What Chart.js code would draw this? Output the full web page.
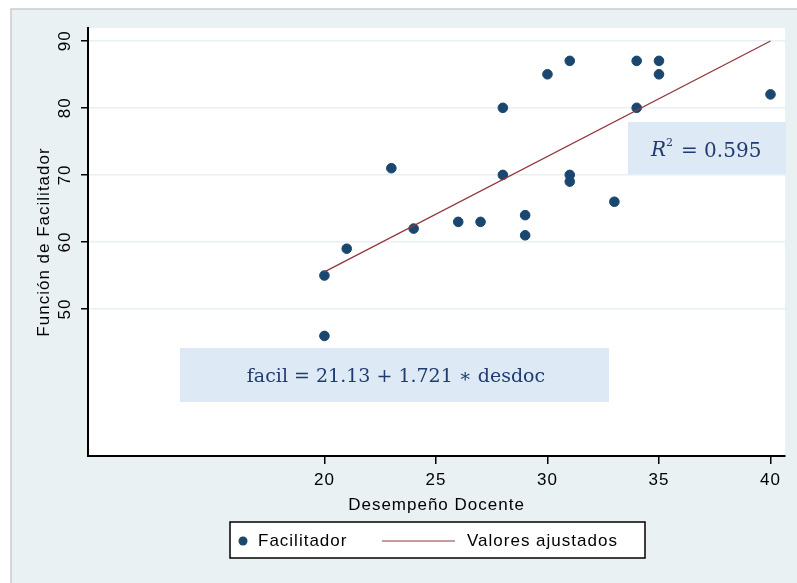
<!DOCTYPE html>
<html>
<head>
<meta charset="utf-8">
<script src="https://cdn.jsdelivr.net/npm/chart.js@4.4.0/dist/chart.umd.min.js"></script>
<style>
  html, body { margin: 0; padding: 0; background: #ffffff; }
  #wrap { position: relative; width: 797px; height: 583px; }
</style>
</head>
<body>
<div id="wrap"><canvas id="chart" width="797" height="583"></canvas></div>
<script>
// Desempeño Docente (x) vs Función de Facilitador (y)
const desdoc = [20, 20, 21, 23, 24, 26, 27, 28, 28, 29, 29, 30, 31, 31, 31, 33, 34, 34, 35, 35, 40];
const facil  = [55, 46, 59, 71, 62, 63, 63, 80, 70, 64, 61, 85, 87, 70, 69, 66, 87, 80, 87, 85, 82];

// fitted line end points (facil = 21.13 + 1.721 * desdoc)
const fitX = [20, 40];
const fitY = [55.55, 89.97];

const xTicks = [20, 25, 30, 35, 40];
const yTicks = [50, 60, 70, 80, 90];

const eqText = 'facil = 21.13 + 1.721 \u2217 desdoc';
const r2Text = '= 0.595';

const navy = '#1a476f';
const maroon = '#90353b';
const sansFont = '"Liberation Sans", Arial, sans-serif';
const serifFont = '"DejaVu Serif", "Liberation Serif", serif';

// Background, plot region, annotation boxes, y labels and legend
const stataBg = {
    id: 'stataBg',
    beforeDraw(chart) {
        const ctx = chart.ctx;
        const a = chart.chartArea;
        ctx.letterSpacing = '1px';
        ctx.save();
        ctx.fillStyle = '#ffffff';
        ctx.fillRect(0, 0, chart.width, chart.height);
        ctx.fillStyle = '#eaf1f3';
        ctx.fillRect(11, 9, chart.width - 11, chart.height - 9);
        ctx.strokeStyle = '#c9cccd';
        ctx.lineWidth = 1.5;
        ctx.beginPath();
        ctx.moveTo(11, chart.height);
        ctx.lineTo(11, 9);
        ctx.lineTo(chart.width, 9);
        ctx.stroke();
        ctx.fillStyle = '#ffffff';
        ctx.fillRect(a.left, a.top, a.right - a.left, a.bottom - a.top);
        ctx.restore();
    },
    beforeDatasetsDraw(chart) {
        const ctx = chart.ctx;
        ctx.save();
        ctx.letterSpacing = '0px';
        ctx.fillStyle = '#dde9f5';
        // R2 box
        ctx.fillRect(628, 122, 158, 52);
        // equation box
        ctx.fillRect(180, 348, 429, 54);
        ctx.fillStyle = '#1f3b70';
        ctx.textBaseline = 'middle';
        ctx.textAlign = 'left';
        ctx.font = 'italic 20px ' + serifFont;
        ctx.fillText('R', 651, 151);
        ctx.font = '11px ' + serifFont;
        ctx.fillText('2', 666, 143);
        ctx.font = '20px ' + serifFont;
        ctx.fillText(r2Text, 681, 152);
        ctx.font = '19px ' + serifFont;
        ctx.textAlign = 'center';
        ctx.fillText(eqText, 396, 377);
        ctx.restore();

        // y tick labels, rotated, and y title
        const ys = chart.scales.y;
        ctx.save();
        ctx.fillStyle = '#000';
        ctx.font = '17px ' + sansFont;
        ctx.textAlign = 'center';
        ctx.textBaseline = 'middle';
        yTicks.forEach(v => {
            const py = ys.getPixelForValue(v);
            ctx.save();
            ctx.translate(65, py);
            ctx.rotate(-Math.PI / 2);
            ctx.fillText(String(v), 0, 0);
            ctx.restore();
        });
        ctx.translate(44, (chart.chartArea.top + chart.chartArea.bottom) / 2);
        ctx.rotate(-Math.PI / 2);
        ctx.fillText('Función de Facilitador', 0, 0);
        ctx.restore();
    },
    afterDraw(chart) {
        // legend box
        const ctx = chart.ctx;
        ctx.save();
        ctx.fillStyle = '#ffffff';
        ctx.fillRect(230, 522, 415, 36);
        ctx.strokeStyle = '#000000';
        ctx.lineWidth = 1.5;
        ctx.strokeRect(230, 522, 415, 36);
        ctx.fillStyle = navy;
        ctx.beginPath();
        ctx.arc(243, 541, 4.5, 0, Math.PI * 2);
        ctx.fill();
        ctx.strokeStyle = maroon;
        ctx.lineWidth = 1;
        ctx.beginPath();
        ctx.moveTo(382, 541);
        ctx.lineTo(455, 541);
        ctx.stroke();
        ctx.fillStyle = '#000000';
        ctx.font = '17px ' + sansFont;
        ctx.textBaseline = 'middle';
        ctx.textAlign = 'left';
        ctx.fillText('Facilitador', 258, 541);
        ctx.fillText('Valores ajustados', 467, 541);
        ctx.restore();
    }
};

const ctx = document.getElementById('chart').getContext('2d');
new Chart(ctx, {
    type: 'scatter',
    data: {
        datasets: [
            {
                label: 'Facilitador',
                data: desdoc.map((x, i) => ({ x: x, y: facil[i] })),
                backgroundColor: navy,
                borderColor: navy,
                pointRadius: 4.8,
                pointHoverRadius: 4.8,
                order: 2
            },
            {
                label: 'Valores ajustados',
                type: 'line',
                data: fitX.map((x, i) => ({ x: x, y: fitY[i] })),
                borderColor: maroon,
                borderWidth: 1.2,
                pointRadius: 0,
                fill: false,
                order: 1
            }
        ]
    },
    options: {
        responsive: false,
        animation: false,
        layout: { padding: { left: 0, top: 28, right: 12, bottom: 67 } },
        plugins: {
            legend: { display: false },
            tooltip: { enabled: false }
        },
        scales: {
            x: {
                type: 'linear',
                min: 9.4,
                max: 40.65,
                afterBuildTicks: s => { s.ticks = xTicks.map(v => ({ value: v })); },
                afterFit: s => { s.height = 60; },
                grid: { drawOnChartArea: false, drawTicks: true, tickLength: 8, tickColor: '#000', lineWidth: 1.5 },
                border: { color: '#000', width: 2 },
                ticks: {
                    color: '#000',
                    padding: 6,
                    font: { family: sansFont, size: 17 },
                    maxRotation: 0, minRotation: 0
                },
                title: {
                    display: true,
                    text: 'Desempeño Docente',
                    color: '#000',
                    padding: { top: -11, bottom: 0 },
                    font: { family: sansFont, size: 17 }
                }
            },
            y: {
                type: 'linear',
                min: 28.1,
                max: 91.9,
                afterBuildTicks: s => { s.ticks = yTicks.map(v => ({ value: v })); },
                afterFit: s => { s.width = 88; },
                grid: { color: '#e8f0f3', lineWidth: 1.5, drawTicks: true, tickLength: 7, tickColor: '#000' },
                border: { color: '#000', width: 2 },
                ticks: { display: false }
            }
        }
    },
    plugins: [stataBg]
});
</script>
</body>
</html>
